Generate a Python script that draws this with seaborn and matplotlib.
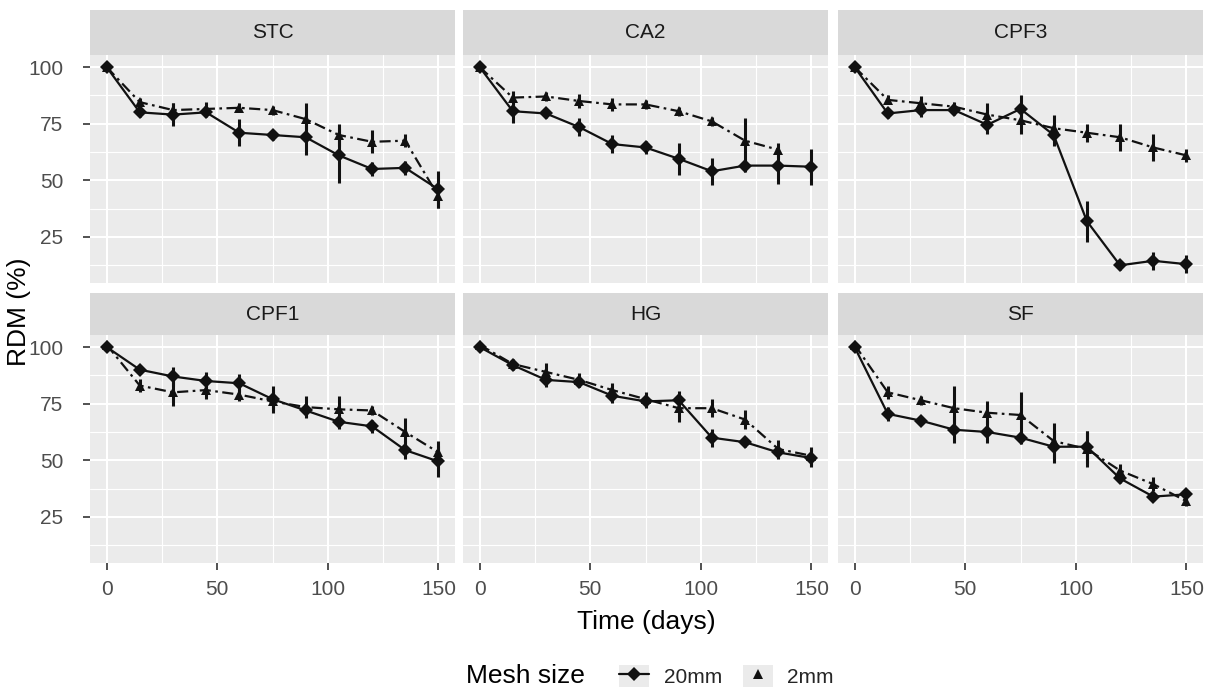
import numpy as np
import pandas as pd
import matplotlib
matplotlib.use("Agg")
import matplotlib.pyplot as plt
import seaborn as sns
from matplotlib.patches import Rectangle
from matplotlib.lines import Line2D
from matplotlib.legend_handler import HandlerTuple

# sampling days
days = [0, 15, 30, 45, 60, 75, 90, 105, 120, 135, 150]
sites = ["STC", "CA2", "CPF3", "CPF1", "HG", "SF"]
meshes = ["20mm", "2mm"]

# mean RDM (%) and error
stc_20 = [100, 80, 79, 80, 71, 70, 69, 61, 55, 55.5, 46]
stc_20_err = [1, 2, 5, 2, 6, 2, 8, 12, 3, 3, 8]
stc_2 = [100, 84.5, 81, 81.5, 82, 81, 77, 70, 67, 67.5, 43]
stc_2_err = [1, 2, 3, 3, 2, 2, 7, 5, 5, 3, 5]

ca2_20 = [100, 80.5, 79.5, 73.5, 66, 64.5, 59.5, 54, 56.5, 56.5, 56]
ca2_20_err = [1, 5, 2, 4, 4, 3, 7, 6, 3, 8, 8]
ca2_2 = [100, 86.5, 87, 85, 83.5, 83.5, 80.5, 76, 67.5, 63.5, np.nan]
ca2_2_err = [1, 3, 2, 3, 3, 2, 2, 2, 10, 3, np.nan]

cpf3_20 = [100, 79.5, 81, 81, 74.5, 81.5, 70, 32, 12.5, 14.5, 13]
cpf3_20_err = [1, 2, 3, 2, 4, 6, 5, 9, 2, 4, 4]
cpf3_2 = [100, 85.5, 84, 82.5, 79, 76.5, 73, 71, 69, 64.5, 61]
cpf3_2_err = [1, 2, 3, 2, 5, 6, 6, 4, 6, 6, 3]

cpf1_20 = [100, 90, 87, 85, 84, 77, 72, 67, 65, 54.5, 49.5]
cpf1_20_err = [1, 2, 4, 4, 4, 6, 3, 3, 3, 4, 7]
cpf1_2 = [101, 83, 80, 81, 79, 76, 73.5, 72.5, 72, 62.5, 53.5]
cpf1_2_err = [1, 3, 6, 4, 3, 4, 5, 6, 2, 6, 5]

hg_20 = [100, 92, 85.5, 84.5, 78.5, 76, 76.5, 60, 58, 53.5, 51]
hg_20_err = [1, 2, 3, 2, 3, 3, 4, 4, 2, 3, 4]
hg_2 = [101, 92.5, 89, 85.5, 81, 77, 73, 73, 68, 55, 52]
hg_2_err = [1, 2, 4, 3, 3, 3, 6, 4, 4, 4, 4]

sf_20 = [100, 70.5, 67.5, 63.5, 62.5, 60, 56, 56, 42, 34, 35]
sf_20_err = [1, 3, 2, 6, 5, 3, 7, 7, 2, 2, 2]
sf_2 = [101, 80, 76.5, 73, 71, 70, 58.5, 55, 45.5, 39.5, 32]
sf_2_err = [1, 3, 2, 10, 5, 10, 8, 8, 3, 3, 2]

series = {
    "STC": (stc_20, stc_20_err, stc_2, stc_2_err),
    "CA2": (ca2_20, ca2_20_err, ca2_2, ca2_2_err),
    "CPF3": (cpf3_20, cpf3_20_err, cpf3_2, cpf3_2_err),
    "CPF1": (cpf1_20, cpf1_20_err, cpf1_2, cpf1_2_err),
    "HG": (hg_20, hg_20_err, hg_2, hg_2_err),
    "SF": (sf_20, sf_20_err, sf_2, sf_2_err),
}

rows = []
for site, (m20, e20, m2, e2) in series.items():
    for mesh, m, e in [("20mm", m20, e20), ("2mm", m2, e2)]:
        for t, v, err in zip(days, m, e):
            rows.append({"site": site, "mesh": mesh, "time": t, "rdm": v, "err": err})
df = pd.DataFrame(rows).dropna()

sns.set_theme(style="darkgrid")
plt.rcParams["font.family"] = ["Liberation Sans", "DejaVu Sans"]
plt.rcParams.update({
    "axes.facecolor": "#EBEBEB",
    "xtick.bottom": True, "ytick.left": True,
    "xtick.major.size": 5, "ytick.major.size": 5,
    "xtick.major.width": 1.2, "ytick.major.width": 1.2,
    "xtick.color": "#333333", "ytick.color": "#333333",
    "xtick.labelcolor": "#4D4D4D", "ytick.labelcolor": "#4D4D4D",
    "xtick.labelsize": 15, "ytick.labelsize": 15,
    "xtick.major.pad": 7, "ytick.major.pad": 14,
    "xtick.minor.size": 0, "ytick.minor.size": 0,
})

W, H = 1207, 689
fig, axes = plt.subplots(2, 3, figsize=(W / 100, H / 100), dpi=100)

col_x = [90, 463, 838]
row_y = [(55, 283), (335, 563)]
panel_w = 365

marker_map = {"20mm": "D", "2mm": "^"}
dash_map = {"20mm": "", "2mm": (5, 2, 1.2, 2)}

for i, site in enumerate(sites):
    r, c = divmod(i, 3)
    ax = axes[r, c]
    top, bot = row_y[r]
    ax.set_position([col_x[c] / W, 1 - bot / H, panel_w / W, (bot - top) / H])
    d = df[df["site"] == site]

    for mesh in meshes:
        dm = d[d["mesh"] == mesh]
        ax.vlines(dm["time"], dm["rdm"] - dm["err"], dm["rdm"] + dm["err"],
                  color="#111111", lw=2.2, zorder=3)

    sns.lineplot(data=d, x="time", y="rdm", style="mesh", style_order=meshes,
                 markers=marker_map, dashes=dash_map, color="#111111",
                 linewidth=1.6, markersize=7, markeredgewidth=0,
                 legend=False, ax=ax, zorder=4)

    ax.set_xlim(-7.5, 157.5)
    ax.set_ylim(4.7, 105.3)
    ax.set_xticks([0, 50, 100, 150])
    ax.set_xticks([25, 75, 125], minor=True)
    ax.set_yticks([25, 50, 75, 100])
    ax.set_yticks([12.5, 37.5, 62.5, 87.5], minor=True)
    ax.grid(which="major", color="white", lw=1.5)
    ax.grid(which="minor", color="white", lw=0.8)
    if c != 0:
        ax.tick_params(axis="y", left=False, labelleft=False)
    if r != 1:
        ax.tick_params(axis="x", bottom=False, labelbottom=False)
    ax.set_xlabel("")
    ax.set_ylabel("")
    for s in ax.spines.values():
        s.set_visible(False)

    # facet strip
    strip_h = (45 if r == 0 else 42) / (bot - top)
    ax.add_patch(Rectangle((0, 1), 1, strip_h, transform=ax.transAxes,
                           facecolor="#D9D9D9", edgecolor="none", clip_on=False))
    ax.text(0.5, 1 + strip_h / 2, site, transform=ax.transAxes, ha="center",
            va="center", fontsize=15, color="#1A1A1A")

fig.text(19 / W, 1 - 312 / H, "RDM (%)", rotation=90, ha="center", va="center",
         fontsize=19, color="black")
fig.text(646 / W, 1 - 622 / H, "Time (days)", ha="center", va="center",
         fontsize=19, color="black")

# legend
fig.text(466 / W, 1 - 676 / H, "Mesh size", ha="left", va="center",
         fontsize=19, color="black")
handles = []
for mesh in meshes:
    bg = Rectangle((0, 0), 1, 1, facecolor="#EBEBEB", edgecolor="none")
    ln = Line2D([], [], color="#111111", lw=1.6, marker=marker_map[mesh],
                markersize=7, markeredgewidth=0,
                linestyle="-" if mesh == "20mm" else "None")
    handles.append((bg, ln))
fig.legend(handles, meshes, handler_map={tuple: HandlerTuple(ndivide=1)},
           loc="center left", bbox_to_anchor=(600 / W, 1 - 676 / H),
           ncol=2, frameon=False, fontsize=15, handlelength=1.45,
           handleheight=1.3, handletextpad=0.7, columnspacing=1.0)

fig.savefig("out.png", dpi=100)
